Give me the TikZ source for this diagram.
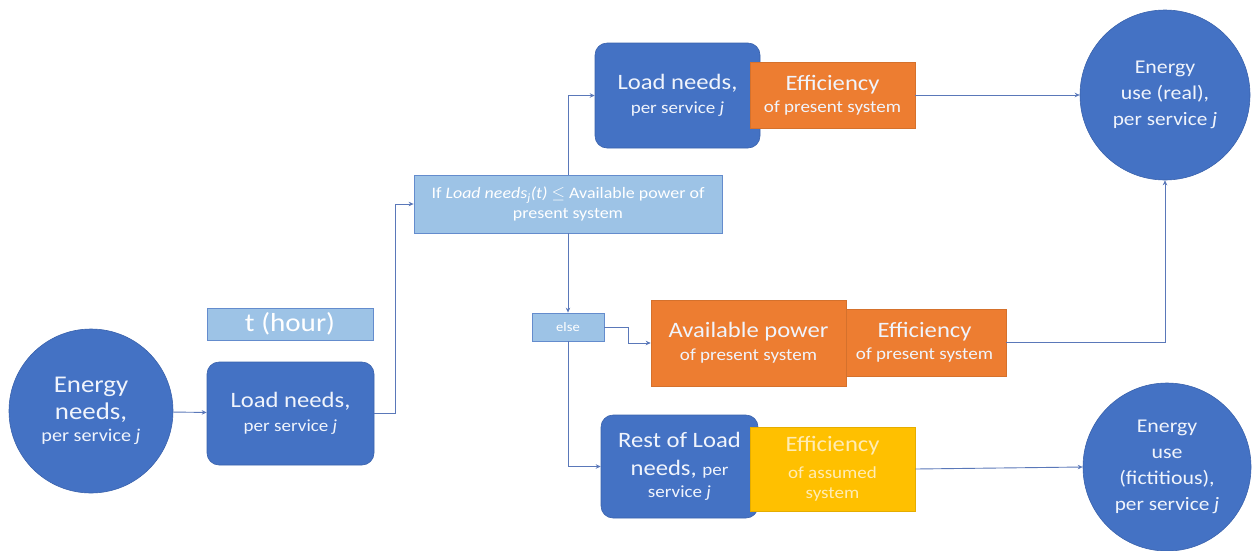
\documentclass[tikz,border=0pt]{standalone}
\usepackage{fontspec}
\setmainfont{Carlito}[FakeStretch=1.12]
\usetikzlibrary{arrows.meta}
\definecolor{bluebox}{RGB}{68,114,196}
\definecolor{blueedge}{RGB}{58,98,172}
\definecolor{lightblue}{RGB}{157,195,230}
\definecolor{lightedge}{RGB}{100,140,205}
\definecolor{orangebox}{RGB}{237,125,49}
\definecolor{yellowbox}{RGB}{255,192,0}
\definecolor{linecol}{RGB}{90,120,185}
\definecolor{txt}{RGB}{240,244,252}
\newcommand\BT{\fontsize{22}{24}\selectfont}
\newcommand\ST{\fontsize{17}{19}\selectfont}
\newcommand\CB{\fontsize{24}{26}\selectfont}
\newcommand\CS{\fontsize{18}{20}\selectfont}
\newcommand\RB{\fontsize{19.5}{21}\selectfont}
\newcommand\RS{\fontsize{19}{21}\selectfont}
\newcommand\bsk[1]{\fontsize{10}{#1}\selectfont}
\begin{document}
\begin{tikzpicture}[x=1pt,y=-1pt,
  bluerect/.style={draw=blueedge,fill=bluebox,rounded corners=12pt,text=txt,align=center,inner sep=2pt,line width=0.6pt},
  orect/.style={draw=orangebox!90!black,fill=orangebox,text=txt,align=center,inner sep=2pt,line width=0.6pt},
  yrect/.style={draw=yellowbox!90!black,fill=yellowbox,text={rgb,255:red,255;green,236;blue,180},align=center,inner sep=2pt,line width=0.6pt},
  lrect/.style={draw=lightedge,fill=lightblue,text=white,align=center,inner sep=2pt,line width=0.8pt},
  bcirc/.style={circle,draw=blueedge,fill=bluebox,text=txt,align=center,inner sep=0pt,line width=0.6pt},
  conn/.style={draw=linecol,line width=0.9pt,-{Stealth[length=5pt,width=4.5pt]}}]
\useasboundingbox (0,0) rectangle (1255,550);

% left part
\node[bcirc,minimum size=164pt,font=\bsk{22}] (E1) at (91,411) {\CB Energy\\[5pt] \CB needs,\\ \CS per service \textit{j}};
\node[lrect,minimum width=166pt,minimum height=32pt] (th) at (290,324) {\fontsize{26}{28}\selectfont t (hour)};
\node[bluerect,minimum width=167pt,minimum height=103pt,font=\bsk{24}] (L1) at (290.5,413.5) {\BT Load needs,\\ \ST per service \textit{j}};

% condition
\node[lrect,minimum width=308pt,minimum height=58pt,font=\bsk{20}] (cond) at (568,204) {\fontsize{16}{18}\selectfont If \textit{Load needs}\textsubscript{\textit{j}}\textit{(t)} $\leq$ Available power of\\ \fontsize{16}{18}\selectfont present system};
\node[lrect,minimum width=72pt,minimum height=28pt] (else) at (568,327) {\fontsize{13}{15}\selectfont else};

% top branch
\node[bluerect,minimum width=165pt,minimum height=105pt,font=\bsk{24}] (L2) at (677.5,95.5) {\BT Load needs,\\ \ST per service \textit{j}};
\node[orect,minimum width=165pt,minimum height=66pt,font=\bsk{22}] (F1) at (832.5,95) {\BT Efficiency\\ \ST of present system};

% middle branch
\node[orect,minimum width=163pt,minimum height=67pt,font=\bsk{22}] (F2) at (924.5,342.5) {\BT Efficiency\\ \ST of present system};
\node[orect,minimum width=195pt,minimum height=86pt,font=\bsk{23}] (AP) at (748.5,343) {\BT Available power\\ \ST of present system};

% bottom branch
\node[bluerect,minimum width=157pt,minimum height=103pt,font=\bsk{22}] (R) at (679.5,466.5) {\BT Rest of Load\\[6pt] \BT needs, \ST per\\ \ST service \textit{j}};
\node[yrect,minimum width=165pt,minimum height=84pt,font=\bsk{20}] (FY) at (832.5,469) {\BT Efficiency\\[7pt] \ST of assumed\\ \ST system};

% right circles
\node[bcirc,minimum size=170pt,font=\bsk{26}] (U1) at (1165,95) {\RB Energy\\ \RB use (real),\\ \RS per service \textit{j}};
\node[bcirc,minimum size=168pt,font=\bsk{26}] (U2) at (1167,467) {\RB Energy\\ \RB use\\ \RB (fictitious),\\ \RS per service \textit{j}};

% connectors
\draw[conn] (E1) -- (L1);
\draw[conn] (L1.east) -- ++(21,0) |- (cond.west);
\draw[conn] (cond.north) |- (L2.west);
\draw[conn] (cond.south) -- (else.north);
\draw[conn] (else.east) -- ++(24,0) |- (AP.west);
\draw[conn] (else.south) |- (R.west);
\draw[conn] (F1.east) -- (U1.west);
\draw[conn] (F2.east) -| (U1.south);
\draw[conn] (FY.east) -- (U2.west);
\end{tikzpicture}
\end{document}
